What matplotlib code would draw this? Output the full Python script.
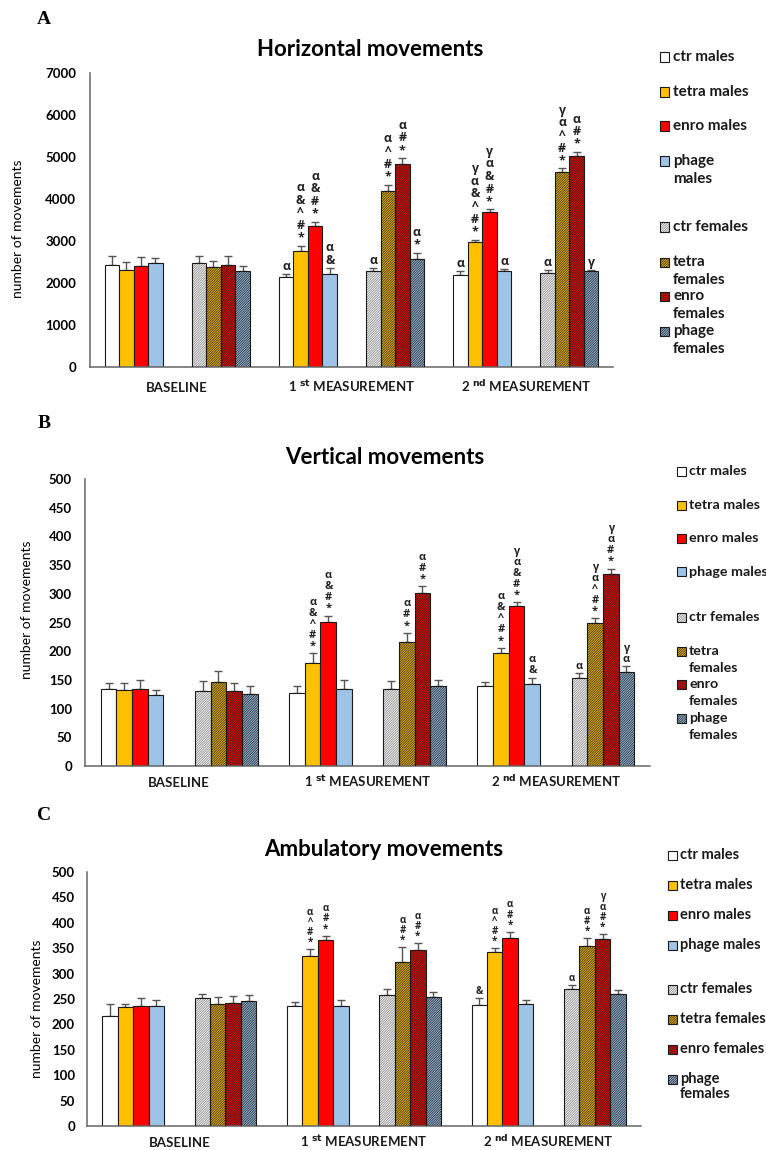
import matplotlib
matplotlib.use("Agg")
import matplotlib.pyplot as plt
from matplotlib.patches import Rectangle

W, H = 766, 1150

# order: baseline, 1st measurement, 2nd measurement
series_names = ["ctr males", "tetra males", "enro males", "phage males",
                "ctr females", "tetra females", "enro females", "phage females"]
tick_labels = ["BASELINE", r"1 $^{\mathbf{st}}$ MEASUREMENT",
               r"2 $^{\mathbf{nd}}$ MEASUREMENT"]

# --- Horizontal movements ---
horiz_mean = [
    [2440, 2135, 2190],
    [2310, 2755, 2985],
    [2410, 3350, 3685],
    [2485, 2220, 2285],
    [2475, 2275, 2230],
    [2380, 4195, 4640],
    [2435, 4840, 5030],
    [2285, 2570, 2275],
]
horiz_err = [
    [200, 70, 90],
    [190, 135, 50],
    [210, 110, 70],
    [120, 140, 55],
    [175, 90, 80],
    [150, 150, 90],
    [200, 130, 90],
    [110, 145, 30],
]
horiz_marks = [
    ["", "α", "α"],
    ["", "α&^#*", "γα&^#*"],
    ["", "α&#*", "γα&#*"],
    ["", "α&", "α"],
    ["", "α", "α"],
    ["", "α^#*", "γα^#*"],
    ["", "α#*", "α#*"],
    ["", "α*", "γ"],
]

# --- Vertical movements ---
vert_mean = [
    [135, 127, 139],
    [133, 179, 197],
    [135, 251, 278],
    [123, 135, 142],
    [131, 135, 153],
    [147, 216, 249],
    [131, 302, 334],
    [125, 139, 164],
]
vert_err = [
    [9, 13, 7],
    [11, 17, 9],
    [15, 11, 7],
    [9, 15, 12],
    [17, 13, 9],
    [19, 16, 8],
    [13, 11, 10],
    [15, 10, 10],
]
vert_marks = [
    ["", "", ""],
    ["", "α&^#*", "α&^#*"],
    ["", "α&#*", "γα&#*"],
    ["", "", "α&"],
    ["", "", "α"],
    ["", "α#*", "γα^#*"],
    ["", "α#*", "γα#*"],
    ["", "", "γα"],
]

# --- Ambulatory movements ---
amb_mean = [
    [217, 237, 239],
    [234, 334, 342],
    [237, 367, 370],
    [237, 237, 240],
    [252, 257, 270],
    [241, 323, 354],
    [243, 346, 368],
    [247, 254, 259],
]
amb_err = [
    [23, 8, 13],
    [7, 14, 8],
    [14, 8, 12],
    [12, 11, 9],
    [7, 12, 8],
    [12, 29, 16],
    [12, 14, 10],
    [10, 9, 9],
]
amb_marks = [
    ["", "", "&"],
    ["", "α^#*", "α^#*"],
    ["", "α#*", "α#*"],
    ["", "", ""],
    ["", "", "α"],
    ["", "α#*", "α#*"],
    ["", "α#*", "γα#*"],
    ["", "", ""],
]

faces = ["white", "#FFC000", "#FF0000", "#9DC3E6"] * 2
hatch_cols = [None] * 4 + ["#808080", "#222222", "#222222", "#222222"]
HATCH = "/" * 14

plt.rcParams["hatch.linewidth"] = 0.55
SANS = ["Lato", "DejaVu Sans"]
SYM = ["Open Sans", "DejaVu Sans"]


def px(x, y):
    return x / W, 1 - y / H


def draw_panel(fig, box, mean, err, marks, ylim, ystep, title, title_xy,
               ylabel_xy, legend, sym_size, sym_step, sym_base,
               tick_pad, cat_base):
    left, top, right, bottom = box
    ax = fig.add_axes([left / W, 1 - bottom / H, (right - left) / W,
                       (bottom - top) / H])
    for s in range(8):
        sex, j = divmod(s, 4)
        xs = [t * 12 + sex * 6 + j for t in range(3)]
        if hatch_cols[s] is None:
            ax.bar(xs, mean[s], width=1, color=faces[s], edgecolor="#1a1a1a",
                   linewidth=0.8, zorder=2)
        else:
            ax.bar(xs, mean[s], width=1, color=faces[s],
                   edgecolor=hatch_cols[s], hatch=HATCH, linewidth=0, zorder=2)
            ax.bar(xs, mean[s], width=1, fill=False, edgecolor="#1a1a1a",
                   linewidth=0.8, zorder=3)
        ax.errorbar(xs, mean[s], yerr=[[0, 0, 0], err[s]], fmt="none",
                    ecolor="#555555", elinewidth=1, capsize=3, capthick=1,
                    zorder=1)
        for t in range(3):
            m = marks[s][t]
            for i, ch in enumerate(reversed(m)):
                ax.annotate(ch, xy=(xs[t], mean[s][t] + err[s][t]),
                            xytext=(0, sym_base + i * sym_step),
                            textcoords="offset points", ha="center",
                            va="center", fontsize=sym_size,
                            fontweight="bold", family=SYM, color="#222222")

    ax.set_xlim(-1.5, 34.5)
    ax.set_ylim(*ylim)
    ax.set_yticks(range(ylim[0], ylim[1] + 1, ystep))
    ax.set_xticks([])
    for lab in ax.get_yticklabels():
        lab.set_fontweight("bold")
        lab.set_family(SANS)
        lab.set_fontsize(9.5)
    ax.tick_params(axis="y", length=0, pad=tick_pad)
    for sp in ["top", "right"]:
        ax.spines[sp].set_visible(False)
    for sp in ["left", "bottom"]:
        ax.spines[sp].set_color("#666666")
        ax.spines[sp].set_linewidth(1.1)

    # category labels, aligned on a common baseline
    yb = (bottom - cat_base) / (bottom - top)
    for t in range(3):
        ax.text(t * 12 + 4.5, yb, tick_labels[t], ha="center", va="baseline",
                transform=ax.get_xaxis_transform(), fontsize=9.5,
                fontweight="bold", family=SANS, color="#1a1a1a")

    fx, fy = px(*title_xy)
    fig.text(fx, fy, title, ha="center", va="center", fontsize=16,
             fontweight="bold", family=SANS)
    fx, fy = px(*ylabel_xy)
    fig.text(fx, fy, "number of movements", rotation=90, ha="center",
             va="center", fontsize=10, family=SANS)

    sq_x, txt_x, sq, fsize, lstep, labels, ys = legend
    for s in range(8):
        y = ys[s]
        x0, y0 = px(sq_x, y + sq / 2)
        r = Rectangle((x0, y0), sq / W, sq / H, transform=fig.transFigure,
                      facecolor=faces[s], linewidth=0)
        if hatch_cols[s] is not None:
            r.set_hatch(HATCH)
            r.set_edgecolor(hatch_cols[s])
        fig.add_artist(r)
        fig.add_artist(Rectangle((x0, y0), sq / W, sq / H,
                                 transform=fig.transFigure, fill=False,
                                 edgecolor="#1a1a1a", linewidth=0.8))
        for i, line in enumerate(labels[s].split("\n")):
            tx, ty = px(txt_x, y + i * lstep)
            fig.text(tx, ty, line, ha="left", va="center", fontsize=fsize,
                     fontweight="bold", family=SANS, color="#1a1a1a")
    return ax


fig = plt.figure(figsize=(W / 100, H / 100), dpi=100)

draw_panel(fig, (90, 73, 613, 367), horiz_mean, horiz_err, horiz_marks,
           (0, 7000), 1000, "Horizontal movements", (370, 50), (18, 229),
           (660, 673, 9, 11, 18,
            ["ctr males", "tetra males", "enro males", "phage\nmales",
             "ctr females", "tetra\nfemales", "enro\nfemales",
             "phage\nfemales"],
            [57, 92, 126, 161, 227, 262, 296, 331]),
           9, 9.1, 5.5, 10, 392)

draw_panel(fig, (85, 479, 650, 766), vert_mean, vert_err, vert_marks,
           (0, 500), 50, "Vertical movements", (385, 457), (27, 610),
           (677, 689, 9, 10.3, 17,
            ["ctr males", "tetra males", "enro males", "phage males",
             "ctr females", "tetra\nfemales", "enro\nfemales",
             "phage\nfemales"],
            [471, 505, 538, 572, 617, 651, 684, 718]),
           8, 8, 5, 9.4, 787)

draw_panel(fig, (87, 872, 641, 1126), amb_mean, amb_err, amb_marks,
           (0, 500), 50, "Ambulatory movements", (384, 849), (37, 1009),
           (668, 680, 9, 10.5, 15,
            ["ctr males", "tetra males", "enro males", "phage males",
             "ctr females", "tetra females", "enro females",
             "phage\nfemales"],
            [855, 885, 915, 945, 989, 1019, 1049, 1079]),
           7, 7.3, 4.8, 8.6, 1147)

for letter, y in [("A", 20), ("B", 423), ("C", 815)]:
    fx, fy = px(44, y)
    fig.text(fx, fy, letter, ha="center", va="center", fontsize=14,
             fontweight="bold", family="Liberation Serif")

fig.savefig("out.png", dpi=100)
